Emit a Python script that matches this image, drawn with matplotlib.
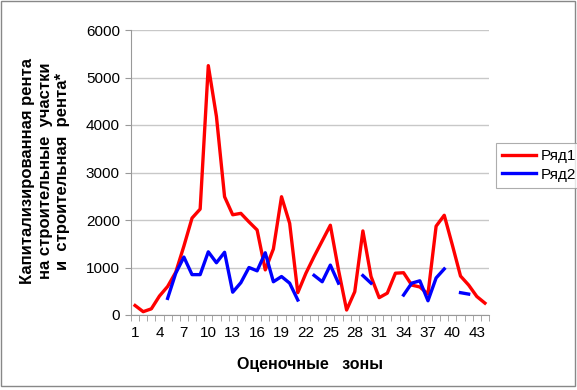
import numpy as np
import matplotlib.pyplot as plt
from matplotlib.patches import Rectangle

plt.rcParams['font.family'] = ['Liberation Sans', 'DejaVu Sans']

zones = np.arange(1, 45)
tick_zones = list(range(1, 44, 3))

# Ряд1
row1 = [200, 70, 130, 400, 600, 900, 1450, 2040, 2230, 5250,
        4180, 2490, 2110, 2140, 1960, 1790, 950, 1390, 2490, 1930,
        470, 880, 1230, 1560, 1890, 950, 105, 490, 1770, 810,
        365, 460, 880, 890, 630, 590, 440, 1870, 2100, 1470,
        820, 630, 390, 250]

# Ряд2 (NaN = no value)
nan = np.nan
row2 = [nan, nan, nan, nan, 350, 880, 1220, 850, 850, 1330,
        1100, 1320, 480, 680, 1000, 930, 1310, 700, 810, 670,
        315, nan, 835, 700, 1050, 670, nan, nan, 830, 670,
        nan, nan, nan, 420, 670, 720, 300, 780, 970, nan,
        470, 440, nan, nan]

fig = plt.figure(figsize=(5.77, 3.90), dpi=100)
ax = fig.add_axes([131 / 577, 1 - 315 / 390, (489 - 131) / 577, (315 - 30) / 390])

ax.plot(zones, row1, color='#FF0000', lw=2.4, label='Ряд1', solid_joinstyle='round')
ax.plot(zones, row2, color='#0000FF', lw=2.4, label='Ряд2', solid_joinstyle='round')

ax.set_xlim(0.5, 44.5)
ax.set_ylim(0, 6000)
ax.set_yticks(range(0, 6001, 1000))
ax.set_xticks(tick_zones)
ax.set_xticks(np.arange(0.5, 45, 1), minor=True)
ax.tick_params(axis='x', which='major', length=0, pad=8, labelsize=11)
ax.tick_params(axis='x', which='minor', length=4, color='#999999', direction='out')
ax.tick_params(axis='y', length=4, color='#999999', pad=4, labelsize=11)
ax.grid(axis='y', color='#C8C8C8', lw=1)
ax.set_axisbelow(True)

for s in ['top', 'right']:
    ax.spines[s].set_visible(False)
for s in ['left', 'bottom']:
    ax.spines[s].set_color('#999999')

fig.text(0.078, 1 - 171 / 390, 'Капитализированная рента\nна строительные  участки\nи  строительная  рента*',
         rotation=90, ha='center', va='center', fontsize=12, fontweight='bold',
         multialignment='center', linespacing=1.2)
fig.text(310 / 577, 1 - 365 / 390, 'Оценочные   зоны', ha='center', va='center',
         fontsize=11.5, fontweight='bold')

leg = fig.legend(loc='upper left', bbox_to_anchor=(496 / 577, 1 - 143 / 390),
                 frameon=True, fancybox=False, fontsize=11, handlelength=2.2,
                 handletextpad=0.3, borderpad=0.4, labelspacing=0.3, borderaxespad=0)
leg.get_frame().set_edgecolor('#999999')
leg.get_frame().set_linewidth(0.8)

fig.patches.append(Rectangle((0.002, 0.01), 0.995, 0.987, transform=fig.transFigure,
                             fill=False, edgecolor='#888888', lw=1))

fig.savefig('out.png', dpi=100)
